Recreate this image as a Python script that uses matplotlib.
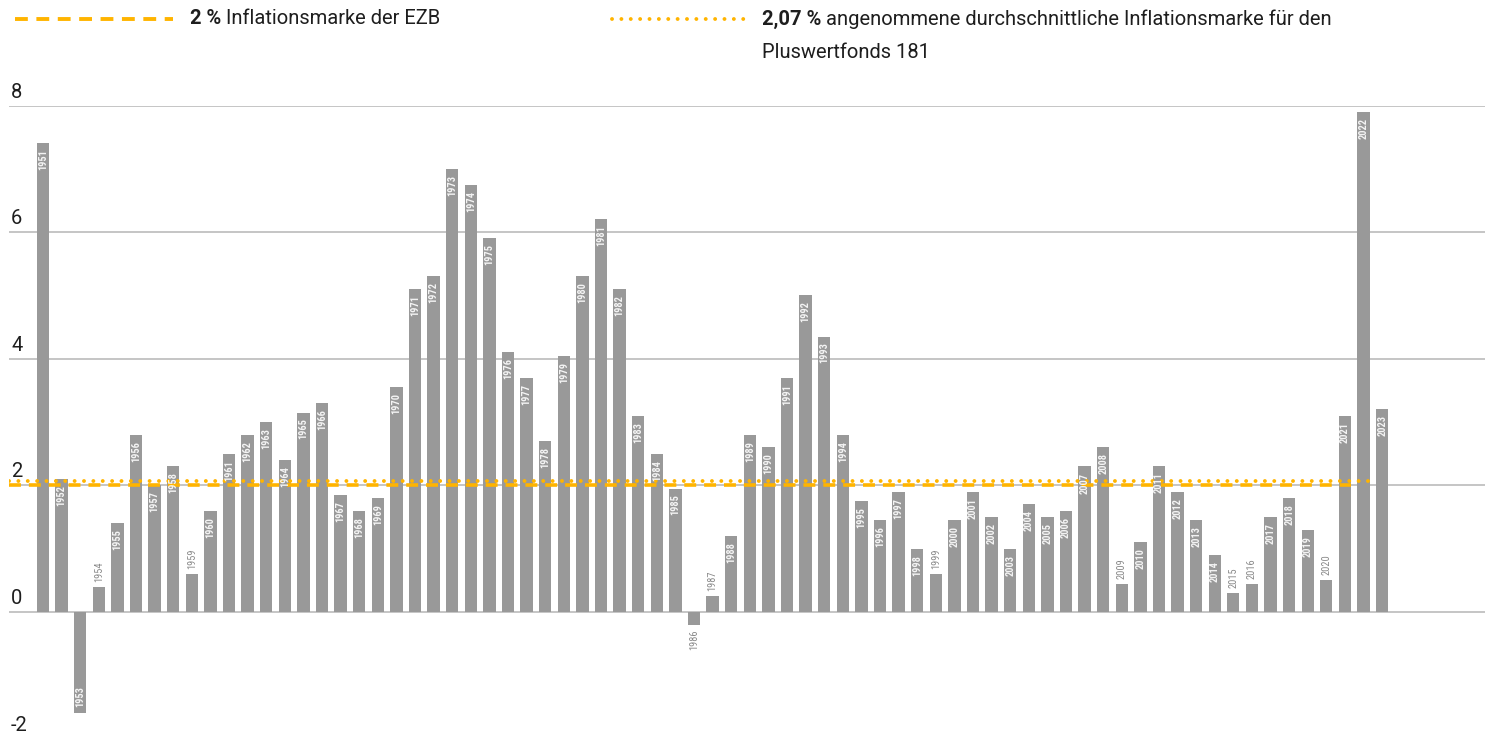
import numpy as np
import matplotlib
matplotlib.use("Agg")
import matplotlib.pyplot as plt
from matplotlib.lines import Line2D
from matplotlib import font_manager

years = list(range(1951, 2024))
inflation = [7.4, 2.1, -1.6, 0.4, 1.4, 2.8, 2.0, 2.3, 0.6, 1.6,
             2.5, 2.8, 3.0, 2.4, 3.15, 3.3, 1.85, 1.6, 1.8, 3.55,
             5.1, 5.3, 7.0, 6.75, 5.9, 4.1, 3.7, 2.7, 4.05, 5.3,
             6.2, 5.1, 3.1, 2.5, 1.95, -0.2, 0.25, 1.2, 2.8, 2.6,
             3.7, 5.0, 4.35, 2.8, 1.75, 1.45, 1.9, 1.0, 0.6, 1.45,
             1.9, 1.5, 1.0, 1.7, 1.5, 1.6, 2.3, 2.6, 0.45, 1.1,
             2.3, 1.9, 1.45, 0.9, 0.3, 0.45, 1.5, 1.8, 1.3, 0.5,
             3.1, 7.9, 3.2]
ecb_target = 2.0
fund_target = 2.07
y_ticks = [-2, 0, 2, 4, 6, 8]

ecb_text = ("2 %", "Inflationsmarke der EZB")
fund_text = ("2,07 %", "angenommene durchschnittliche Inflationsmarke für den", "Pluswertfonds 181")

installed = {f.name for f in font_manager.fontManager.ttflist}
narrow = [f for f in ["Roboto Condensed", "Liberation Sans Narrow"] if f in installed] + ["DejaVu Sans"]
plt.rcParams['font.family'] = ["Roboto", "DejaVu Sans"]

bar_color = "#999999"
grid_color = "#b5b5b5"
orange = "#FFB400"
text_color = "#1e1e1e"
W, H = 1485, 731

fig = plt.figure(figsize=(W / 100, H / 100), dpi=100)
# axes: y=8 at 105.5 px from top, y=-2 at 738.7 px (slightly below the figure)
y8, ym2 = 105.5, 738.7
ax = fig.add_axes([9 / W, (H - ym2) / H, (W - 9) / W, (ym2 - y8) / H])
ax.set_xlim(-1.83, 77.53)
ax.set_ylim(-2, 8)
ax.axis("off")

x = np.arange(len(years))
for t in y_ticks:
    ax.axhline(t, color=grid_color, lw=1.1, zorder=1)
    ax.annotate(str(t), xy=(11, t), xycoords=("figure pixels", "data"),
                xytext=(0, 8), textcoords="offset pixels",
                ha="left", va="baseline", fontsize=14.5, color=text_color)

ax.bar(x, inflation, width=0.66, color=bar_color, zorder=2)

# reference lines
ax.plot([-1.83, 70.3], [ecb_target, ecb_target], color=orange, lw=2.6,
        dashes=(3.3, 2.2), zorder=3)
ax.plot([-1.83, 71.4], [fund_target, fund_target], color=orange, lw=2.8,
        dashes=(0.01, 2.4), dash_capstyle="round", zorder=3)

# year labels
for xi, yr, v in zip(x, years, inflation):
    inside = abs(v) >= 0.7
    if v >= 0:
        off, va = (-6, "top") if inside else (5, "bottom")
    else:
        off, va = (6, "bottom") if inside else (-5, "top")
    ax.annotate(str(yr), xy=(xi, v), xytext=(0, off), textcoords="offset pixels",
                rotation=90, ha="center", va=va, fontsize=7.5, family=narrow,
                fontweight="bold" if inside else "normal",
                color="#f4f4f4" if inside else "#8a8a8a", zorder=4)

# legend (top)
renderer = fig.canvas.get_renderer()


def legend_entry(x0, x1, px_text, style, bold, rest, second=None):
    ly = 1 - 19 / H
    ln = Line2D([x0 / W, x1 / W], [ly, ly], transform=fig.transFigure,
                color=orange, lw=2.8, **style)
    fig.add_artist(ln)
    tb = fig.text(px_text / W, ly, bold, fontsize=14.5, fontweight="bold",
                  va="center", ha="left", color=text_color)
    bb = tb.get_window_extent(renderer)
    fig.text(bb.x1 / W + 5 / W, ly, rest, fontsize=14.5,
             va="center", ha="left", color=text_color)
    if second:
        fig.text(px_text / W, 1 - 52 / H, second, fontsize=14.5,
                 va="center", ha="left", color=text_color)


legend_entry(15, 173, 190, dict(dashes=(3.3, 2.2)), *ecb_text)
legend_entry(612, 748, 762, dict(dashes=(0.01, 2.4), dash_capstyle="round"), *fund_text)

fig.savefig("out.png", dpi=100)
